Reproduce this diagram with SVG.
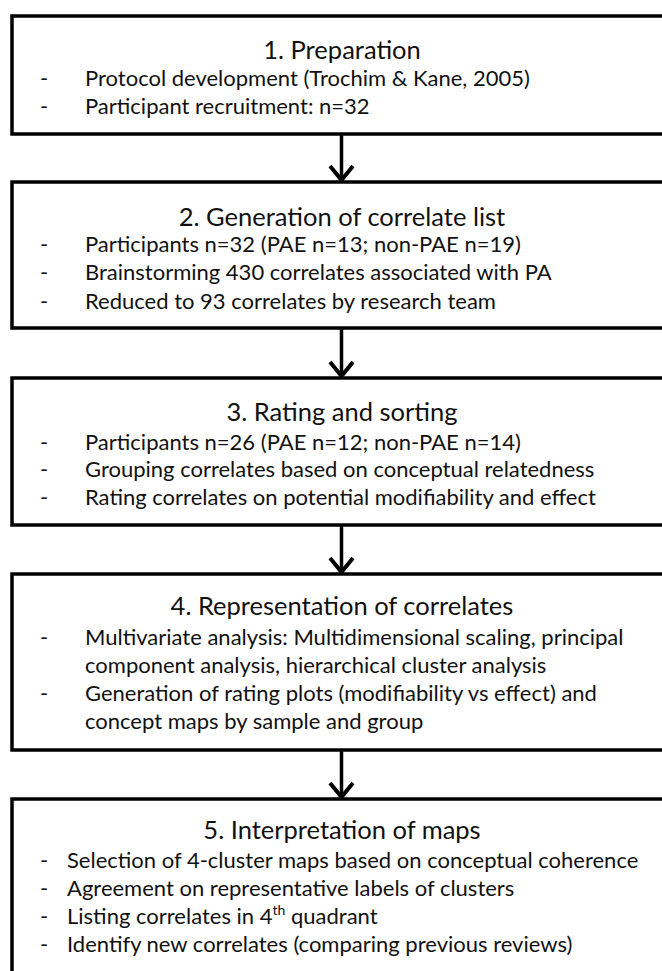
<svg xmlns="http://www.w3.org/2000/svg" width="662" height="971" viewBox="0 0 662 971">
<style>
.box{fill:#fff;stroke:#000;stroke-width:3.5}
.t{font-family:Lato,"Open Sans",sans-serif;font-size:25.5px;fill:#111;text-anchor:middle}
.b{font-family:Lato,"Open Sans",sans-serif;font-size:22px;fill:#111}
.c{fill:none;stroke:#000;stroke-width:3.5}
.h{fill:none;stroke:#000;stroke-width:4;stroke-linejoin:miter}
</style>
<rect x="0" y="0" width="662" height="971" fill="#fff"/>
<g id="connectors">
<line class="c" x1="341.5" y1="134" x2="341.5" y2="180"/>
<path class="h" d="M330,166 L341.5,180 L353,166"/>
<line class="c" x1="341.5" y1="328" x2="341.5" y2="376"/>
<path class="h" d="M330,362 L341.5,376 L353,362"/>
<line class="c" x1="341.5" y1="525" x2="341.5" y2="572"/>
<path class="h" d="M330,558 L341.5,572 L353,558"/>
<line class="c" x1="341.5" y1="750" x2="341.5" y2="797"/>
<path class="h" d="M330,783 L341.5,797 L353,783"/>
</g>
<g id="n1">
<rect class="box" x="12" y="16" width="680" height="118"/>
<text class="t" x="342" y="58.5">1. Preparation</text>
<text class="b" x="40" y="86">-</text><text class="b" x="85" y="86">Protocol development (Trochim &amp; Kane, 2005)</text>
<text class="b" x="40" y="114">-</text><text class="b" x="85" y="114">Participant recruitment: n=32</text>
</g>
<g id="n2">
<rect class="box" x="12" y="182" width="680" height="146"/>
<text class="t" x="342" y="225.5">2. Generation of correlate list</text>
<text class="b" x="40" y="252">-</text><text class="b" x="85" y="252">Participants n=32 (PAE n=13; non-PAE n=19)</text>
<text class="b" x="40" y="280">-</text><text class="b" x="85" y="280">Brainstorming 430 correlates associated with PA</text>
<text class="b" x="40" y="309">-</text><text class="b" x="85" y="309">Reduced to 93 correlates by research team</text>
</g>
<g id="n3">
<rect class="box" x="12" y="378" width="680" height="147"/>
<text class="t" x="342" y="420.5">3. Rating and sorting</text>
<text class="b" x="40" y="450">-</text><text class="b" x="85" y="450">Participants n=26 (PAE n=12; non-PAE n=14)</text>
<text class="b" x="40" y="477">-</text><text class="b" x="85" y="477">Grouping correlates based on conceptual relatedness</text>
<text class="b" x="40" y="505">-</text><text class="b" x="85" y="505">Rating correlates on potential modifiability and effect</text>
</g>
<g id="n4">
<rect class="box" x="12" y="574" width="680" height="176"/>
<text class="t" x="342" y="614.5">4. Representation of correlates</text>
<text class="b" x="40" y="645">-</text><text class="b" x="85" y="645">Multivariate analysis: Multidimensional scaling, principal</text>
<text class="b" x="85" y="673">component analysis, hierarchical cluster analysis</text>
<text class="b" x="40" y="701">-</text><text class="b" x="85" y="701">Generation of rating plots (modifiability vs effect) and</text>
<text class="b" x="85" y="729">concept maps by sample and group</text>
</g>
<g id="n5">
<rect class="box" x="12" y="799" width="680" height="200"/>
<text class="t" x="342" y="838.5">5. Interpretation of maps</text>
<text class="b" x="40" y="868">-</text><text class="b" x="67" y="868">Selection of 4-cluster maps based on conceptual coherence</text>
<text class="b" x="40" y="896">-</text><text class="b" x="67" y="896">Agreement on representative labels of clusters</text>
<text class="b" x="40" y="924">-</text><text class="b" x="67" y="924">Listing correlates in 4<tspan font-size="14" dy="-9">th</tspan><tspan dy="9"> quadrant</tspan></text>
<text class="b" x="40" y="952">-</text><text class="b" x="67" y="952">Identify new correlates (comparing previous reviews)</text>
</g>
</svg>
